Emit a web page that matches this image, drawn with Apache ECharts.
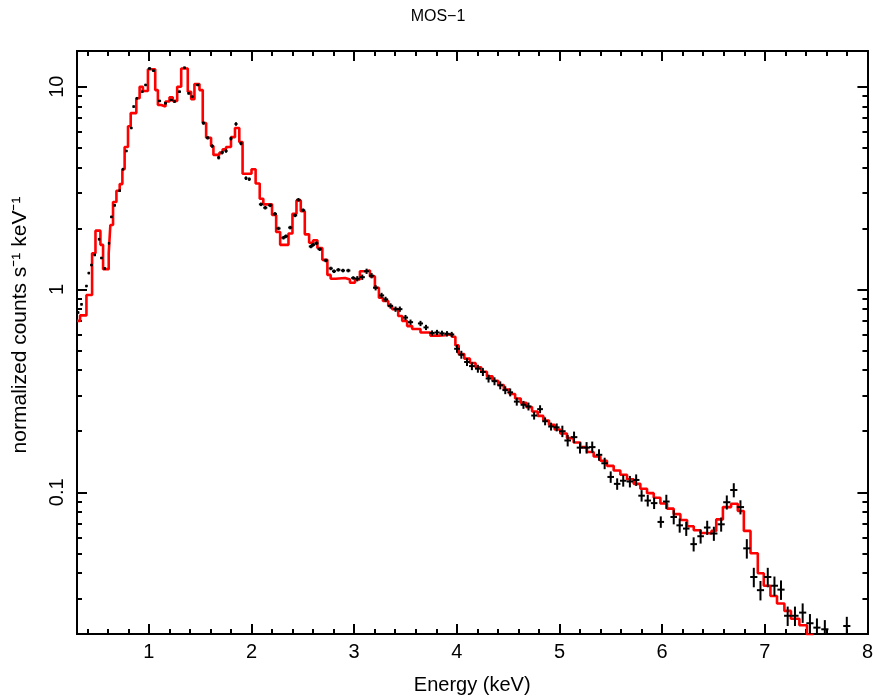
<!DOCTYPE html>
<html><head><meta charset="utf-8">
<script src="https://cdn.jsdelivr.net/npm/echarts@6/dist/echarts.min.js"></script>
<style>html,body{margin:0;padding:0;background:#fff}#c{width:876px;height:700px}</style>
</head><body><div id="c"></div>
<script>
// Model (red step histogram): bin left edges and values; last edge closes the final bin
const modelE = [0.300,0.330,0.392,0.447,0.480,0.528,0.554,0.609,0.625,0.651,0.684,0.716,0.742,0.764,0.797,0.823,0.878,0.910,0.942,0.991,
1.062,1.088,1.121,1.162,1.201,1.233,1.276,1.315,1.379,1.412,1.444,1.493,1.525,1.558,1.606,1.629,1.687,1.719,1.752,1.800,1.839,1.881,1.913,
2.000,2.040,2.080,2.115,2.200,2.240,2.279,2.360,2.399,2.438,2.480,2.519,2.561,2.600,2.642,2.690,2.739,2.771,2.820,2.911,2.959,
3.008,3.056,3.105,3.154,3.202,3.241,3.280,3.332,3.370,3.429,3.468,3.516,3.565,3.646,3.743,3.824,3.888,3.953,3.986,
4.018,4.073,4.128,4.183,4.238,4.293,4.348,4.403,4.458,4.513,4.568,4.623,4.678,4.733,4.788,4.843,4.898,4.953,
5.008,5.073,5.138,5.203,5.268,5.333,5.398,5.463,5.528,5.593,5.658,5.723,5.788,5.853,5.918,5.983,
6.048,6.113,6.178,6.243,6.308,6.373,6.440,6.480,6.527,6.592,6.672,6.737,6.796,6.861,6.932,6.990,
7.055,7.119,7.191,7.255,7.337,7.411,7.475];
const modelV = [0.70,0.745,0.94,1.51,1.95,1.66,1.26,1.51,2.08,2.70,3.07,3.31,3.92,5.04,6.38,7.41,8.77,10.0,9.52,12.2,
9.62,8.13,7.98,8.45,8.87,8.51,10.0,12.3,9.45,8.67,10.3,9.62,6.62,5.60,5.10,4.61,4.73,4.91,5.04,5.64,6.26,5.33,3.72,
3.92,3.33,2.80,2.63,2.33,1.92,1.66,1.89,2.36,2.75,2.43,1.87,1.70,1.75,1.60,1.40,1.18,1.13,1.14,1.12,1.08,
1.12,1.23,1.24,1.16,1.02,0.91,0.877,0.83,0.80,0.74,0.70,0.66,0.638,0.614,0.592,0.595,0.603,0.585,0.53,
0.480,0.456,0.434,0.413,0.393,0.373,0.355,0.338,0.321,0.305,0.290,0.276,0.263,0.250,0.238,0.226,0.215,0.204,
0.195,0.185,0.176,0.167,0.158,0.150,0.143,0.135,0.128,0.122,0.116,0.110,0.104,0.099,0.094,0.088,
0.083,0.078,0.073,0.068,0.065,0.063,0.0626,0.0645,0.0735,0.0845,0.0877,0.0808,0.0645,0.0500,0.0399,0.0346,
0.0308,0.0283,0.0260,0.0238,0.0221,0.0198];

// Data (black crosses): energy, value, half bin width (keV), relative error
const dataE = [0.311,0.344,0.392,0.415,0.441,0.473,0.515,0.538,0.570,0.612,0.635,0.667,0.716,0.748,0.781,0.829,0.852,0.884,0.936,0.968,
1.007,1.045,1.104,1.162,1.218,1.250,1.298,1.347,1.389,1.422,1.476,1.532,1.573,1.616,1.680,1.713,1.752,1.800,1.849,1.898,1.946,1.978,
2.092,2.134,2.182,2.228,2.263,2.311,2.335,2.377,2.425,2.457,2.503,2.578,2.600,2.632,2.665,2.723,2.772,2.804,2.846,2.891,2.943,2.991,
3.030,3.079,3.121,3.170,3.209,3.267,3.306,3.354,3.403,3.445,3.500,3.549,3.646,3.700,3.759,3.807,3.855,3.904,3.950,
4.002,4.044,4.099,4.147,4.205,4.254,4.309,4.367,4.423,4.472,4.520,4.584,4.649,4.698,4.753,4.811,4.860,4.918,4.973,
5.028,5.080,5.142,5.200,5.264,5.319,5.385,5.440,5.499,5.562,5.621,5.686,5.747,5.800,5.860,5.922,5.987,
6.041,6.113,6.171,6.235,6.307,6.375,6.439,6.504,6.575,6.630,6.698,6.763,6.825,6.893,6.958,
7.029,7.094,7.158,7.223,7.294,7.369,7.440,7.508,7.585,7.799];
const dataV = [0.77,0.845,1.04,1.205,1.32,1.48,1.77,1.43,1.27,1.69,2.28,2.60,3.07,3.92,4.82,6.26,7.98,8.77,9.45,10.2,
12.3,12.0,8.51,8.29,8.60,8.45,9.45,12.4,9.27,8.93,10.2,6.62,5.60,5.10,4.47,4.73,4.82,5.55,6.55,5.25,3.54,3.50,
2.63,2.53,2.60,2.36,2.00,1.80,1.83,2.02,2.32,2.77,2.46,1.63,1.66,1.69,1.58,1.39,1.27,1.23,1.25,1.24,1.24,1.14,
1.13,1.15,1.23,1.17,1.02,0.935,0.894,0.83,0.80,0.80,0.727,0.69,0.68,0.65,0.610,0.614,0.608,0.605,0.600,
0.51,0.477,0.439,0.419,0.407,0.392,0.364,0.353,0.337,0.319,0.311,0.280,0.270,0.265,0.239,0.257,0.224,0.211,0.209,
0.200,0.180,0.187,0.166,0.166,0.167,0.153,0.139,0.119,0.110,0.114,0.113,0.115,0.0962,0.091,0.0884,0.0714,
0.090,0.0755,0.0687,0.0662,0.0555,0.0607,0.067,0.0626,0.0695,0.0893,0.1026,0.0845,0.0529,0.0382,0.0329,
0.0382,0.0346,0.0331,0.0246,0.0246,0.0255,0.0226,0.0215,0.0211,0.0219];
const dataXErr = [0.012,0.012,0.012,0.012,0.012,0.012,0.012,0.012,0.012,0.012,0.012,0.012,0.012,0.012,0.012,0.012,0.012,0.012,0.012,0.012,
0.015,0.015,0.015,0.015,0.015,0.015,0.015,0.015,0.015,0.015,0.015,0.015,0.015,0.015,0.015,0.015,0.015,0.015,0.015,0.015,0.015,0.015,
0.02,0.02,0.02,0.02,0.02,0.02,0.02,0.02,0.02,0.02,0.02,0.02,0.02,0.02,0.02,0.02,0.02,0.02,0.02,0.02,0.02,0.02,
0.025,0.025,0.025,0.025,0.025,0.025,0.025,0.025,0.025,0.025,0.025,0.025,0.025,0.025,0.025,0.025,0.025,0.025,0.025,
0.028,0.028,0.028,0.028,0.028,0.028,0.028,0.028,0.028,0.028,0.028,0.028,0.028,0.028,0.028,0.028,0.028,0.028,0.028,
0.032,0.032,0.032,0.032,0.032,0.032,0.032,0.032,0.032,0.032,0.032,0.032,0.032,0.032,0.032,0.032,0.032,
0.032,0.032,0.032,0.032,0.032,0.032,0.032,0.035,0.035,0.035,0.035,0.035,0.035,0.035,0.035,
0.035,0.035,0.035,0.035,0.035,0.035,0.035,0.035,0.035,0.035];
const dataYErr = [0.015,0.015,0.015,0.015,0.015,0.015,0.015,0.015,0.015,0.015,0.015,0.015,0.015,0.015,0.015,0.015,0.015,0.015,0.015,0.015,
0.015,0.015,0.015,0.015,0.015,0.015,0.015,0.015,0.015,0.015,0.015,0.02,0.02,0.02,0.02,0.02,0.02,0.02,0.02,0.02,0.02,0.02,
0.02,0.02,0.02,0.02,0.02,0.02,0.02,0.02,0.02,0.02,0.02,0.02,0.02,0.02,0.02,0.02,0.02,0.02,0.02,0.02,0.02,0.02,
0.03,0.03,0.03,0.03,0.03,0.03,0.03,0.03,0.03,0.03,0.03,0.03,0.03,0.03,0.03,0.03,0.03,0.03,0.03,
0.045,0.045,0.045,0.045,0.045,0.045,0.045,0.045,0.045,0.045,0.045,0.045,0.045,0.045,0.045,0.045,0.045,0.045,0.045,
0.065,0.065,0.065,0.065,0.065,0.065,0.065,0.065,0.065,0.065,0.065,0.065,0.065,0.065,0.065,0.065,0.065,
0.08,0.08,0.08,0.08,0.08,0.08,0.08,0.08,0.08,0.08,0.08,0.08,0.11,0.11,0.11,
0.11,0.11,0.11,0.11,0.11,0.11,0.11,0.11,0.11,0.11];

// Axis ticks and labels
const xMajor = [1,2,3,4,5,6,7,8];
const xMinor = [0.4,0.6,0.8,1.2,1.4,1.6,1.8,2.2,2.4,2.6,2.8,3.2,3.4,3.6,3.8,4.2,4.4,4.6,4.8,5.2,5.4,5.6,5.8,6.2,6.4,6.6,6.8,7.2,7.4,7.6,7.8];
const yMajor = [0.1,1,10];
const yMinor = [0.02,0.03,0.04,0.05,0.06,0.07,0.08,0.09,0.2,0.3,0.4,0.5,0.6,0.7,0.8,0.9,2,3,4,5,6,7,8,9];
const yLabels = {'0.1':'0.1','1':'1','10':'10'};
const titleText = 'MOS\u22121';
const xName = 'Energy (keV)';
const yName = 'normalized counts s\u207b\u00b9 keV\u207b\u00b9';

const FONT = "'Liberation Sans', Arial, sans-serif";
const XMIN = 0.3, XMAX = 8, YMIN = 0.02, YMAX = 15;
const lineSt = {color:'#000', width:2};

function xAx(pos, ticks, len, withLabel) {
  return {
    type:'value', position:pos, min:XMIN, max:XMAX, gridIndex:0,
    axisLine:{show:true, onZero:false, lineStyle:lineSt},
    axisTick:{show:true, inside:true, length:len, customValues:ticks, lineStyle:lineSt},
    axisLabel:{show:withLabel, customValues:ticks, color:'#000', fontSize:20, fontFamily:FONT, margin:8},
    splitLine:{show:false},
    name: withLabel ? xName : '', nameLocation:'middle', nameGap:41,
    nameTextStyle:{color:'#000', fontSize:20, fontFamily:FONT}
  };
}
function yAx(pos, ticks, len, withLabel) {
  return {
    type:'log', logBase:10, position:pos, min:YMIN, max:YMAX, gridIndex:0,
    axisLine:{show:true, onZero:false, lineStyle:lineSt},
    axisTick:{show:true, inside:true, length:len, customValues:ticks, lineStyle:lineSt},
    axisLabel:{show:withLabel, customValues:ticks, rotate:90, color:'#000', fontSize:20, fontFamily:FONT, margin:10,
      formatter:(v)=> yLabels[String(+v.toPrecision(3))] || String(v)},
    splitLine:{show:false}, minorTick:{show:false}
  };
}

const chart = echarts.init(document.getElementById('c'), null, {renderer:'canvas'});
chart.setOption({
  animation:false,
  backgroundColor:'#fff',
  title:{text:titleText, left:'center', top:4, textStyle:{color:'#000', fontSize:16, fontWeight:'normal', fontFamily:FONT}},
  grid:{left:77, right:5, top:51, bottom:58},
  graphic:[{
    type:'text', x:20, y:325, rotation:Math.PI/2,
    style:{text:yName, fill:'#000', font:"21px 'Liberation Sans', Arial, sans-serif", align:'center', verticalAlign:'middle'}
  }],
  xAxis:[xAx('bottom', xMajor, 10, true), xAx('bottom', xMinor, 5, false), xAx('top', xMajor, 10, false), xAx('top', xMinor, 5, false)],
  yAxis:[yAx('left', yMajor, 10, true), yAx('left', yMinor, 5, false), yAx('right', yMajor, 10, false), yAx('right', yMinor, 5, false)],
  series:[
    {
      type:'line', name:'model', xAxisIndex:0, yAxisIndex:0, step:'end', showSymbol:false, clip:true, z:3,
      lineStyle:{color:'#ff0000', width:2.6},
      data: modelE.map((e,i)=>[e, modelV[Math.min(i, modelV.length-1)]])
    },
    {
      type:'custom', name:'data', xAxisIndex:0, yAxisIndex:0, clip:true, z:4,
      data: dataE.map((e,i)=>[e, dataV[i], dataXErr[i], dataYErr[i]]),
      encode:{x:0, y:1},
      renderItem:function(params, api){
        const e=api.value(0), v=api.value(1), xe=api.value(2), fe=api.value(3);
        const l=api.coord([e-xe,v]), r=api.coord([e+xe,v]);
        const t=api.coord([e,v*(1+fe)]), b=api.coord([e,v*(1-fe)]);
        return {type:'group', children:[
          {type:'line', shape:{x1:l[0],y1:l[1],x2:r[0],y2:r[1]}, style:{stroke:'#000', lineWidth:2}},
          {type:'line', shape:{x1:t[0],y1:t[1],x2:b[0],y2:b[1]}, style:{stroke:'#000', lineWidth:2}}
        ]};
      }
    }
  ]
});
</script></body></html>
